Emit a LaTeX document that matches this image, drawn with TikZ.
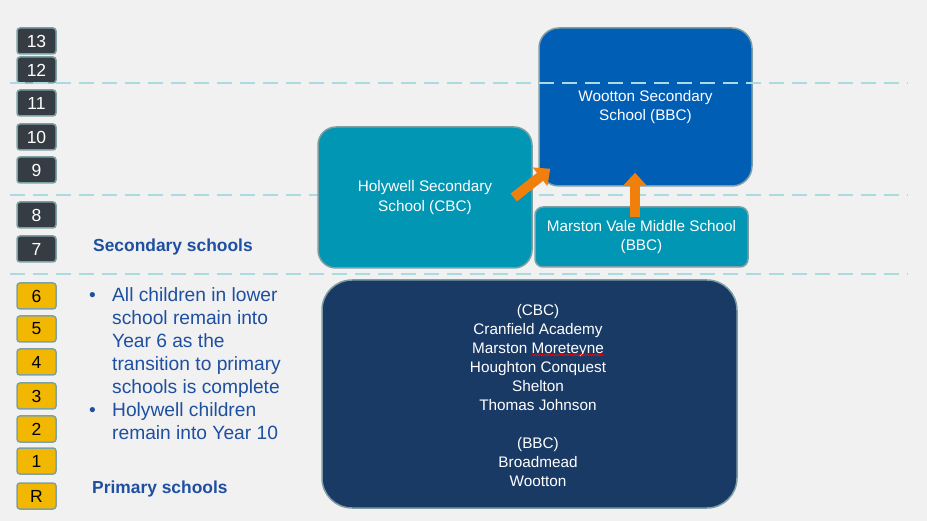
\documentclass[tikz,border=0pt]{standalone}
\usepackage{fontspec}
\setmainfont{Liberation Sans}
\usetikzlibrary{arrows.meta,calc,decorations.pathmorphing}
\definecolor{bgc}{HTML}{F1F1F1}
\definecolor{dashc}{HTML}{A9DBE0}
\definecolor{badgedark}{HTML}{363C44}
\definecolor{badgeyel}{HTML}{F2B700}
\definecolor{badgeedge}{HTML}{7DA2A4}
\definecolor{wootc}{HTML}{005EB5}
\definecolor{holyc}{HTML}{0096B4}
\definecolor{navyc}{HTML}{1A3A66}
\definecolor{boxedge}{HTML}{7D9FA3}
\definecolor{txtblue}{HTML}{1E4FA0}
\definecolor{arrc}{HTML}{F07F0B}
\begin{document}
\begin{tikzpicture}[x=1pt,y=-1pt,
 badge/.style={rounded corners=3pt, draw=badgeedge, line width=1.5pt, minimum width=39pt, minimum height=26pt, inner sep=0pt, font=\fontsize{17.5}{17.5}\selectfont},
 dbadge/.style={badge, fill=badgedark, text=white},
 ybadge/.style={badge, fill=badgeyel, text=black},
 school/.style={draw=boxedge, line width=1.5pt, text=white, align=center, inner sep=0pt, font=\fontsize{15.3}{19.5}\selectfont},
 yearline/.style={dashc, line width=1.5pt, dash pattern=on 15pt off 8pt},
 flow/.style={arrc, line width=10pt, -{Triangle[width=23pt,length=13pt]}},
 note/.style={text=txtblue, inner sep=0pt}]
\fill[bgc] (0,0) rectangle (927,521);
\useasboundingbox (0,0) rectangle (927,521);

% year lines behind boxes
\draw[yearline] (10,195) -- (908,195);
\draw[yearline] (10,274) -- (908,274);

% badges
\node[dbadge] (y13) at (36.5,41) {13};
\node[dbadge] (y12) at (36.5,70) {12};
\node[dbadge] (y11) at (36.5,103) {11};
\node[dbadge] (y10) at (36.5,137) {10};
\node[dbadge] (y9) at (36.5,170) {9};
\node[dbadge] (y8) at (36.5,215) {8};
\node[dbadge] (y7) at (36.5,249) {7};
\node[ybadge] (y6) at (36.5,296) {6};
\node[ybadge] (y5) at (36.5,329) {5};
\node[ybadge] (y4) at (36.5,362) {4};
\node[ybadge] (y3) at (36.5,396) {3};
\node[ybadge] (y2) at (36.5,429) {2};
\node[ybadge] (y1) at (36.5,461) {1};
\node[ybadge] (yR) at (36.5,496) {R};

% school boxes
\node[school, fill=wootc, rounded corners=20pt, minimum width=213pt, minimum height=158pt] (woot) at (645.5,107) {Wootton Secondary\\School (BBC)};
\node[school, fill=holyc, rounded corners=18pt, minimum width=214pt, minimum height=141pt] (holy) at (425,197.5) {Holywell Secondary\\School (CBC)};
\node[school, fill=holyc, rounded corners=8pt, minimum width=213pt, minimum height=60pt] (marston) at (641.5,237) {Marston Vale Middle School\\(BBC)};
\node[school, fill=navyc, rounded corners=30pt, minimum width=415pt, minimum height=228pt] (prim) at (529.5,394) {};
\node[text=white, align=center, inner sep=0pt, font=\fontsize{15.3}{19}\selectfont] (primtext) at (538,396)
 {(CBC)\\Cranfield Academy\\Marston Moreteyne\\Houghton Conquest\\Shelton\\Thomas Johnson\\[19pt](BBC)\\Broadmead\\Wootton};
\draw[red, line width=0.6pt, decorate, decoration={snake, amplitude=0.7pt, segment length=2.5pt}] (532,355) -- (604,355);

% top year line over Wootton box
\draw[yearline] (10,83) -- (908,83);

% arrows
\coordinate (a1s) at ($(holy.east)+(-19,0)$);
\coordinate (a1e) at ($(woot.south west)+(12,-18)$);
\coordinate (a2s) at ($(marston.north)+(-6.5,11)$);
\coordinate (a2e) at ($(woot.south)+(-10.5,-14)$);
\draw[flow] (a1s) -- (a1e);
\draw[flow] (a2s) -- (a2e);

% left texts
\node[note, anchor=base west, font=\fontsize{17.4}{20}\selectfont\bfseries] (sec) at (93,252) {Secondary schools};
\node[note, anchor=base west, font=\fontsize{17.4}{20}\selectfont\bfseries] (pri) at (92,493) {Primary schools};
\node[note, anchor=north west, font=\fontsize{19.2}{23}\selectfont] (notes) at (89,285)
 {\begin{tabular}{@{}p{23pt}@{}l@{}}
 \textbullet & All children in lower\\
  & school remain into\\
  & Year 6 as the\\
  & transition to primary\\
  & schools is complete\\
 \textbullet & Holywell children\\
  & remain into Year 10
 \end{tabular}};
\end{tikzpicture}
\end{document}
